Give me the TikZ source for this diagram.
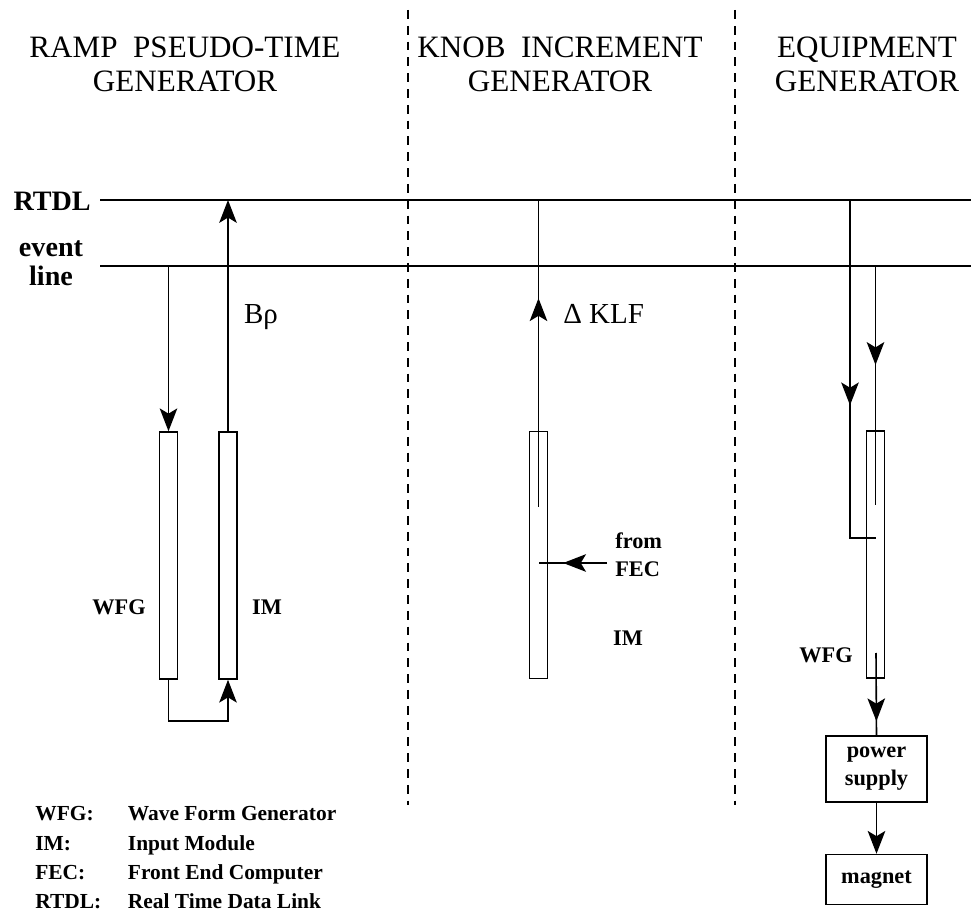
\documentclass[tikz,border=0pt]{standalone}
\usepackage{fontspec}
\setmainfont{Liberation Serif}
\usetikzlibrary{arrows.meta,positioning,decorations.markings}

\begin{document}
\begin{tikzpicture}[
  x=0.02cm, y=-0.02cm,
  every node/.style={inner sep=0pt,align=center},
  header/.style={font=\fontsize{17.7}{19.5}\selectfont},
  lbl/.style={font=\bfseries\fontsize{12.7}{15.9}\selectfont},
  side/.style={font=\bfseries\fontsize{16}{16.5}\selectfont},
  sym/.style={font=\fontsize{16.5}{18}\selectfont},
  module/.style={draw,line width=0.9pt,minimum width=0.36cm,minimum height=4.94cm},
  unitbox/.style={draw,line width=0.9pt,minimum width=2.02cm,lbl},
  busline/.style={line width=1.2pt},
  sep/.style={line width=0.8pt,dash pattern=on 5pt off 4pt},
  wire/.style={line width=0.9pt},
  arrow/.style={wire,-{Stealth[length=13pt,width=10pt,inset=3pt]}},
  midarrow/.style={wire,postaction={decorate},
    decoration={markings,mark=at position #1 with {\arrow{Stealth[length=13pt,width=10pt,inset=3pt]}}}}
]
\useasboundingbox (0,0) rectangle (971,915);

% headers
\node[header] (hramp) at (185,64) {RAMP\ \ PSEUDO-TIME\\GENERATOR};
\node[header] (hknob) at (560,64) {KNOB\ \ INCREMENT\\GENERATOR};
\node[header] (hequip) at (867,64) {EQUIPMENT\\GENERATOR};

% section separators
\draw[sep] (408,10) -- (408,805);
\draw[sep] (735,10) -- (735,805);

% data link and event line
\node[side,anchor=east] (rtdl) at (91,201) {RTDL};
\node[side] (event) at (51,263) {event\\line};
\coordinate (rtdlW) at (100,200);
\coordinate (rtdlE) at (971,200);
\coordinate (evW) at (100,266);
\coordinate (evE) at (971,266);
\draw[busline] (rtdlW) -- (rtdlE);
\draw[busline] (evW) -- (evE);

% ramp pseudo-time generator
\node[module] (wfgL) at (168.5,555.5) {};
\node[module] (imL) at (228,555.5) {};
\node[lbl] (wfgLlbl) at (119,607) {WFG};
\node[lbl] (imLlbl) at (267,607) {IM};
\node[sym] (brho) at (261,317) {Bρ};
\draw[arrow] (wfgL.north |- evW) -- (wfgL.north);
\draw[arrow] (imL.north) -- (imL.north |- rtdlW);
\draw[arrow] (wfgL.south) -- ++(0,41) -| (imL.south);

% knob increment generator
\node[module] (imM) at (538.5,555) {};
\node[lbl] (imMlbl) at (628,638) {IM};
\node[sym,anchor=west] (dklf) at (563,314) {Δ KLF};
\coordinate (imMin) at (538.5,507);
\draw[midarrow=0.68] (imMin) -- (imMin |- rtdlW);
\coordinate (fec) at (607,563);
\node[lbl,anchor=west,align=left] (feclbl) at (615,555) {from\\FEC};
\draw[midarrow=0.64] (fec) -- (fec -| imM);

% equipment generator
\node[module] (wfgR) at (875.5,554.5) {};
\node[lbl] (wfgRlbl) at (826,655) {WFG};
\node[unitbox,minimum height=1.32cm] (psu) at (876.5,769) {power\\supply};
\node[unitbox,minimum height=1.0cm,below=1.02cm of psu] (mag) {magnet};
\coordinate (tapA) at (850,200);
\coordinate (tapAend) at (876,538);
\draw[midarrow=0.564] (tapA) |- (tapAend);
\coordinate (tapB) at (875.5,266);
\coordinate (tapBend) at (875.5,505);
\draw[midarrow=0.414] (tapB) -- (tapBend);
\coordinate (wfgRout) at (876,653);
\draw[midarrow=0.83] (wfgRout) -- (psu.north);
\draw[arrow] (psu) -- (mag);

% legend
\node[lbl,anchor=north west,font=\bfseries\fontsize{12.2}{16.7}\selectfont] (legend) at (35,800) {%
  \begin{tabular}{@{}p{52.7pt}@{}l@{}}
  WFG: & Wave Form Generator\\
  IM: & Input Module\\
  FEC: & Front End Computer\\
  RTDL: & Real Time Data Link
  \end{tabular}};
\end{tikzpicture}
\end{document}
